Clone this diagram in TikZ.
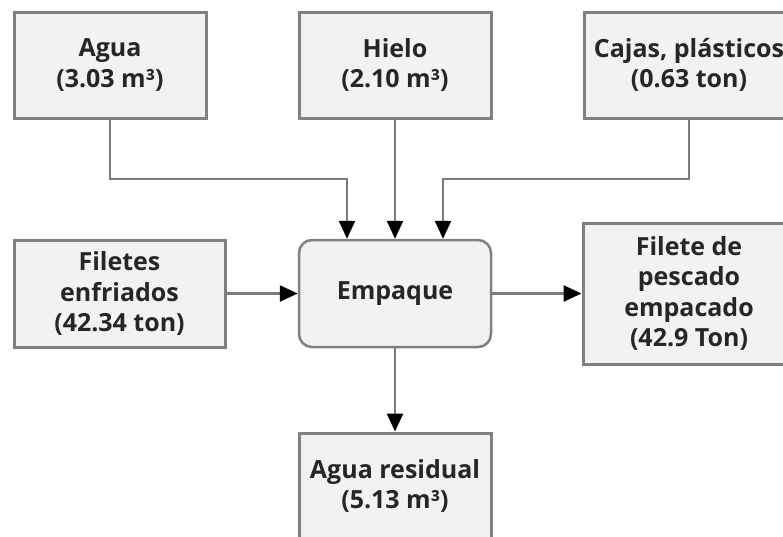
\documentclass[tikz,border=0pt]{standalone}
\usepackage{fontspec}
\setmainfont{Open Sans}
\usetikzlibrary{arrows.meta}
\definecolor{boxfill}{HTML}{F2F2F2}
\definecolor{boxline}{HTML}{808080}
\definecolor{txt}{HTML}{262626}
\tikzset{
  blk/.style={draw=boxline, line width=3pt, fill=boxfill, rectangle,
    minimum width=192pt, minimum height=106pt, inner sep=0pt, align=center,
    text=txt, font=\fontsize{25}{30.5}\selectfont\bfseries},
  proc/.style={blk, rounded corners=13pt, line width=2.5pt},
  conn/.style={draw=boxline!95!black, line width=2.5pt,
    -{Triangle[length=18pt,width=16pt,fill=black,color=black]}},
}
\begin{document}
\begin{tikzpicture}[x=1pt,y=-1pt]
\useasboundingbox (0,0) rectangle (783,536);
\clip (0,0) rectangle (783,536);
\node[blk] (agua) at (110,65) {Agua\\(3.03 m³)};
\node[blk] (hielo) at (395,65) {Hielo\\(2.10 m³)};
\node[blk, minimum width=210pt] (cajas) at (689,65) {Cajas, plásticos\\(0.63 ton)};
\node[blk, minimum width=211pt, minimum height=107pt] (filetes) at (119.5,293.5) {Filetes\\enfriados\\(42.34 ton)};
\node[proc, minimum height=107pt] (emp) at (395,293.5) {Empaque};
\node[blk, minimum width=212pt, minimum height=141pt] (pesc) at (689,293.5) {Filete de\\pescado\\empacado\\(42.9 Ton)};
\node[blk] (resid) at (395,486) {Agua residual\\(5.13 m³)};
\coordinate (ja) at (110,179);
\coordinate (jc) at (689,179);
\draw[conn] (agua.south) -- (ja) -| ([xshift=-48pt]emp.north);
\draw[conn] (hielo.south) -- (emp.north);
\draw[conn] (cajas.south) -- (jc) -| ([xshift=48pt]emp.north);
\draw[conn] (filetes.east) -- (emp.west);
\draw[conn] (emp.east) -- (pesc.west);
\draw[conn] (emp.south) -- (resid.north);
\end{tikzpicture}
\end{document}
